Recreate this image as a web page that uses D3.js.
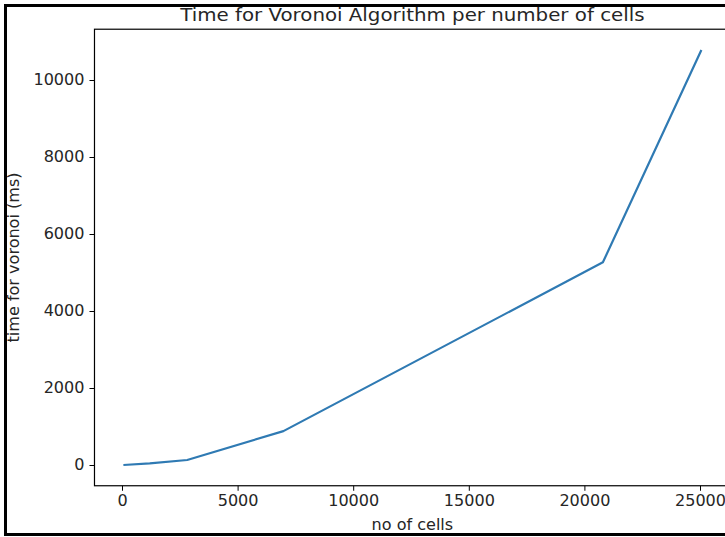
<!DOCTYPE html>
<html><head><meta charset="utf-8">
<script src="https://cdn.jsdelivr.net/npm/d3@7"></script>
<style>body{margin:0;background:#fff;} svg{display:block;} text{font-family:"DejaVu Sans",sans-serif;fill:#262626;}</style>
</head><body>
<script>
const cells = [60, 1200, 2820, 6980, 20800, 25060];
const timeMs = [0, 40, 130, 880, 5265, 10780];
const xTicks = [0, 5000, 10000, 15000, 20000, 25000];
const yTicks = [0, 2000, 4000, 6000, 8000, 10000];
const title = "Time for Voronoi Algorithm per number of cells";
const xLabel = "no of cells";
const yLabel = "time for voronoi (ms)";

const W = 725, H = 537;
const svg = d3.select("body").append("svg").attr("width", W).attr("height", H);
svg.append("rect").attr("width", W).attr("height", H).attr("fill", "#fff");

const xPx0 = 122, xPx1 = 700; // pixels of tick 0 and 25000
const yPx0 = 465, yPx1 = 80;  // pixels of tick 0 and 10000
const [xmin, xmax] = d3.extent(cells), [ymin, ymax] = d3.extent(timeMs);
const xd = [xmin - 0.05 * (xmax - xmin), xmax + 0.05 * (xmax - xmin)];
const yd = [ymin - 0.05 * (ymax - ymin), ymax + 0.05 * (ymax - ymin)];
const xs = (xPx1 - xPx0) / 25000, ys = (yPx0 - yPx1) / 10000;
const x = d3.scaleLinear().domain(xd).range([xPx0 + xd[0] * xs, xPx0 + xd[1] * xs]);
const y = d3.scaleLinear().domain(yd).range([yPx0 - yd[0] * ys, yPx0 - yd[1] * ys]);
const [L, R] = x.range(), [B, T] = y.range();
const STRETCH = 1.07;

// axes
const xa = svg.append("g").attr("transform", `translate(0,${B})`)
  .call(d3.axisBottom(x).tickValues(xTicks).tickFormat(d3.format("d")).tickSizeOuter(0).tickSize(5).tickPadding(5));
const ya = svg.append("g").attr("transform", `translate(${L},0)`)
  .call(d3.axisLeft(y).tickValues(yTicks).tickFormat(d3.format("d")).tickSizeOuter(0).tickSize(5).tickPadding(5));
[xa, ya].forEach(g => {
  g.select(".domain").remove();
  g.selectAll("line").attr("stroke", "#000").attr("stroke-width", 1);
  g.selectAll("text").attr("font-size", 15).attr("fill", "#262626").style("font-family", "DejaVu Sans");
});

// spines
svg.append("rect").attr("x", L).attr("y", T).attr("width", R - L).attr("height", B - T)
  .attr("fill", "none").attr("stroke", "#000").attr("stroke-width", 1.2);

// line
const pts = cells.map((c, i) => [c, timeMs[i]]);
svg.append("path").datum(pts)
  .attr("fill", "none").attr("stroke", "#2f7ab3").attr("stroke-width", 2.2)
  .attr("stroke-linejoin", "round")
  .attr("d", d3.line().x(d => x(d[0])).y(d => y(d[1])));

// texts
svg.append("text").attr("x", (L + R) / 2).attr("y", 20.5).attr("text-anchor", "middle")
  .attr("font-size", 18.5).text(title);
svg.append("text").attr("x", (L + R) / 2).attr("y", 530).attr("text-anchor", "middle")
  .attr("font-size", 15).text(xLabel);
svg.append("text").attr("transform", `translate(19,${(T + B) / 2}) rotate(-90)`)
  .attr("text-anchor", "middle").attr("font-size", 15).text(yLabel);

// slight horizontal stretch of all text, as in the reference image
svg.selectAll("text").each(function () {
  const w = this.getComputedTextLength();
  d3.select(this).attr("textLength", w * STRETCH).attr("lengthAdjust", "spacingAndGlyphs");
});

// outer frame (screenshot border)
svg.append("path").attr("d", `M${W + 5},5.5 H5.5 V534.5 H${W + 5}`)
  .attr("fill", "none").attr("stroke", "#000").attr("stroke-width", 3);
</script>
</body></html>
